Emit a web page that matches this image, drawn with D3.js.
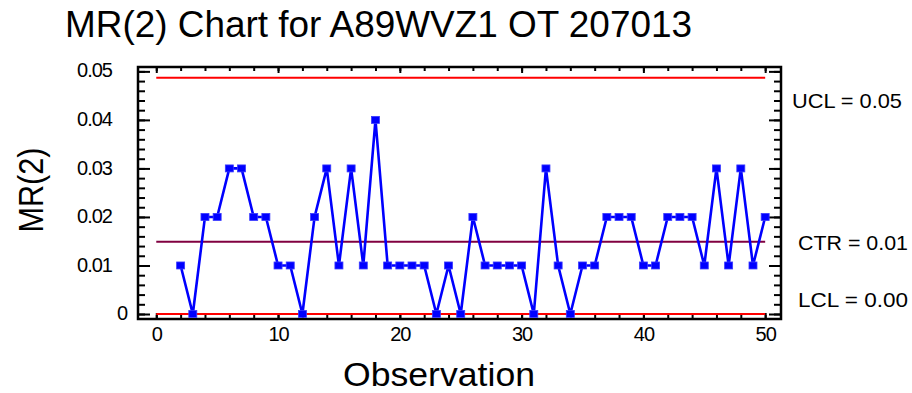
<!DOCTYPE html>
<html><head><meta charset="utf-8">
<script src="https://cdn.jsdelivr.net/npm/d3@7"></script>
<style>body{margin:0;background:#fff}svg{display:block}text{font-family:"Liberation Sans",Arial,sans-serif;fill:#000}</style>
</head><body>
<svg id="c" width="912" height="393"></svg>
<script>
const chartTitle = "MR(2) Chart for A89WVZ1 OT 207013";
const xTitle = "Observation";
const yTitle = "MR(2)";
const observations = [2,3,4,5,6,7,8,9,10,11,12,13,14,15,16,17,18,19,20,21,22,23,24,25,26,27,28,29,30,31,32,33,34,35,36,37,38,39,40,41,42,43,44,45,46,47,48,49,50];
const mrValues = [0.01,0,0.02,0.02,0.03,0.03,0.02,0.02,0.01,0.01,0,0.02,0.03,0.01,0.03,0.01,0.04,0.01,0.01,0.01,0.01,0,0.01,0,0.02,0.01,0.01,0.01,0.01,0,0.03,0.01,0,0.01,0.01,0.02,0.02,0.02,0.01,0.01,0.02,0.02,0.02,0.01,0.03,0.01,0.03,0.01,0.02];
const limitNames = ["UCL","CTR","LCL"];
const limitValues = [0.0487,0.0149,0];
const limitLabels = ["UCL = 0.05","CTR = 0.01","LCL = 0.00"];
const xTickValues = [0,10,20,30,40,50];
const xMinorTicks = d3.range(0,51,2);
const yTickValues = [0,0.01,0.02,0.03,0.04,0.05];
const yTickLabels = ["0","0.01","0.02","0.03","0.04","0.05"];
const yMinorTicks = d3.range(0,0.0501,0.002);

const svg = d3.select("#c");
const L=138, R=781, T=67, B=319;
const x = d3.scaleLinear().domain([-1.5,51.3]).range([L,R]);
const y = d3.scaleLinear().domain([-0.00103,0.0509]).range([B,T]);

// title
svg.append("text").attr("x",65).attr("y",37).attr("font-size",36)
  .attr("textLength",627).attr("lengthAdjust","spacingAndGlyphs").text(chartTitle);
// y title
svg.append("text").attr("transform","translate(43,190) rotate(-90)").attr("text-anchor","middle")
  .attr("font-size",35).attr("textLength",85).attr("lengthAdjust","spacingAndGlyphs").text(yTitle);
// x title
svg.append("text").attr("x",439).attr("y",386).attr("text-anchor","middle")
  .attr("font-size",34).attr("textLength",192).attr("lengthAdjust","spacingAndGlyphs").text(xTitle);

// axes ticks
const gL = svg.append("g").attr("transform",`translate(${L},0)`);
gL.call(d3.axisLeft(y).tickValues(yMinorTicks).tickSize(-7).tickFormat(""));
gL.call(g=>g.append("g").call(d3.axisLeft(y).tickValues(yTickValues).tickSize(-12).tickPadding(26).tickFormat((d,i)=>yTickLabels[i])));
const gR = svg.append("g").attr("transform",`translate(${R},0)`);
gR.call(d3.axisRight(y).tickValues(yMinorTicks).tickSize(-7).tickFormat(""));
gR.call(g=>g.append("g").call(d3.axisRight(y).tickValues(yTickValues).tickSize(-12).tickFormat("")));
const gB = svg.append("g").attr("transform",`translate(0,${B})`);
gB.call(d3.axisBottom(x).tickValues(xMinorTicks).tickSize(-4).tickFormat(""));
gB.call(g=>g.append("g").call(d3.axisBottom(x).tickValues(xTickValues).tickSize(-6).tickPadding(20).tickFormat(d3.format("d"))));
const gT = svg.append("g").attr("transform",`translate(0,${T})`);
gT.call(d3.axisTop(x).tickValues(xMinorTicks).tickSize(-4).tickFormat(""));
gT.call(g=>g.append("g").call(d3.axisTop(x).tickValues(xTickValues).tickSize(-6).tickFormat("")));
svg.selectAll(".domain").remove();
svg.selectAll(".tick line").attr("stroke","#000").attr("stroke-width",2);
svg.selectAll(".tick text").attr("font-size",20).attr("letter-spacing","-1px")
  .attr("font-family","Liberation Sans, Arial, sans-serif").attr("fill","#000");
// y labels: center and nudge
gL.selectAll(".tick text").attr("dy","0.28em").attr("x",d=>d===0?-11:-26);
gB.selectAll(".tick text").attr("dy","0.1em");

// frame
svg.append("rect").attr("x",L).attr("y",T).attr("width",R-L).attr("height",B-T)
  .attr("fill","none").attr("stroke","#000").attr("stroke-width",2.5);

// limit lines
const limitColors = ["#ff0000","#800040","#ff0000"];
limitValues.forEach((v,i)=>{
  svg.append("line").attr("x1",x(0)).attr("x2",x(50)).attr("y1",y(v)).attr("y2",y(v))
    .attr("stroke",limitColors[i]).attr("stroke-width",2);
});
// limit labels
const labelOffsets=[[792,23],[798,1],[798,-14]];
limitLabels.forEach((t,i)=>{
  svg.append("text").attr("x",labelOffsets[i][0]).attr("y",y(limitValues[i])+labelOffsets[i][1]).attr("dy","0.35em")
    .attr("font-size",21).attr("textLength",110).attr("lengthAdjust","spacingAndGlyphs").text(t);
});

// data line
const pts = observations.map((o,i)=>[o,mrValues[i]]);
svg.append("path").datum(pts).attr("fill","none").attr("stroke","#0000ff").attr("stroke-width",2.6)
  .attr("stroke-linejoin","miter")
  .attr("d",d3.line().x(d=>x(d[0])).y(d=>y(d[1])));
svg.selectAll("rect.pt").data(pts).enter().append("rect").attr("class","pt")
  .attr("x",d=>x(d[0])-4).attr("y",d=>y(d[1])-3.5).attr("width",8).attr("height",7)
  .attr("fill","#0000ff").attr("stroke","#3a3aff").attr("stroke-width",0.8);
</script>
</body></html>
